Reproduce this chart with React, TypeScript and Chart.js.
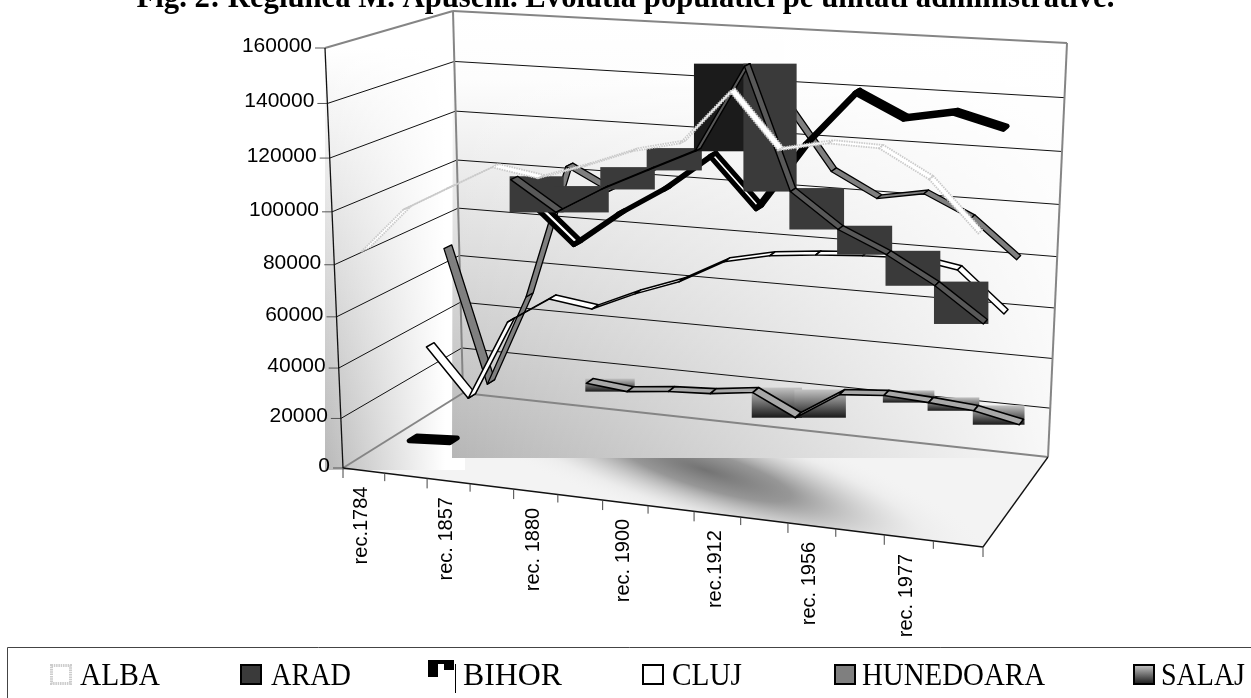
import React, { useEffect, useRef } from "react";
import { Chart, registerables } from "chart.js";

Chart.register(...registerables);

const TITLE = "Fig. 2: Regiunea M. Apuseni. Evolutia populatiei pe unitati administrative.";
const categories = [
  "rec.1784", "rec. 1850", "rec. 1857", "rec. 1869", "rec. 1880", "rec. 1890", "rec. 1900",
  "rec. 1910", "rec.1912", "rec. 1930", "rec. 1956", "rec. 1966", "rec. 1977", "rec. 1992",
];
const yTicks = { min: 0, max: 160000, step: 20000 };

const ALBA = [84700, 101900, 111000, 120000, 117200, 122800, 129300, 133300, 152400, 133200, 136800, 136300, 126900, 109700];
const ARAD = [null, null, null, 112400, 101500, 111300, 119500, 127600, 158600, 115700, 103500, 95900, 86300, 74200];
const BIHOR = [300, 1500, null, 100900, 85800, 98700, 109300, 122700, 104800, 129400, 148700, 140600, 143800, 139300];
const CLUJ = [34500, 14900, 48100, 59000, 56600, 64200, 70500, 79700, 83500, 85300, 86400, 87100, 84100, 69300];
const HUNEDOARA = [70700, 15700, 53900, 107500, 99000, 108100, 116900, 137000, 135800, 113000, 104100, 107200, 99200, 85300];
const SALAJ = [null, null, null, 14500, 12800, 14700, 15700, 18000, 9400, 20900, 22400, 21400, 20000, 16300];

const seriesNames = ["ALBA", "ARAD", "BIHOR", "CLUJ", "HUNEDOARA", "SALAJ"];
const seriesValues = [ALBA, ARAD, BIHOR, CLUJ, HUNEDOARA, SALAJ];

type Style = {
  fill: string;
  stroke: string;
  width: number;
  dash?: number[];
  whiteSegs?: number[];
  boxSegs?: number[];
  darkSegs?: number[];
  boxColor?: string;
  gradBox?: boolean;
};
const seriesStyles: Style[] = [
  { fill: "#ffffff", stroke: "#cacaca", width: 1.8, dash: [1.5, 1] },
  { fill: "#585858", stroke: "#000000", width: 1.4, boxSegs: [3, 4, 5, 6, 7, 8, 9, 10, 11, 12], darkSegs: [7], boxColor: "#3a3a3a" },
  { fill: "#000000", stroke: "#000000", width: 5, whiteSegs: [3, 7] },
  { fill: "#ffffff", stroke: "#000000", width: 1.5 },
  { fill: "#7f7f7f", stroke: "#000000", width: 1.3 },
  { fill: "#a8a8a8", stroke: "#000000", width: 1.6, boxSegs: [3, 7, 8, 10, 11, 12], gradBox: true },
];

// 3-D box corners as they appear in the picture
const A = [343, 468], B = [983, 547], C = [1048, 457], D = [463, 393];
const E = [325, 48], F = [1010, 88], G = [1067, 43], H = [453, 11];
const GREY = "#858585";

const lerp = (a: number, b: number, k: number) => a + (b - a) * k;
const warpU = (t: number) => 0.9066 * t + 0.0934 * t * t;
const warpV = (t: number) => 0.9356 * t + 0.0644 * t * t;
const project = (t: number, vt: number, w: number): [number, number] => {
  const U = warpU(t), V = warpV(vt);
  const corner = (k: number) => {
    const floor = lerp(lerp(A[k], B[k], U), lerp(D[k], C[k], U), w);
    const top = lerp(lerp(E[k], F[k], U), lerp(H[k], G[k], U), w);
    return lerp(floor, top, V);
  };
  return [corner(0), corner(1)];
};
const seriesDepth = (s: number) => (s + 0.5) / seriesNames.length;
const HALF_RIBBON = 0.032;

const normX = (chart: any, i: number) => {
  const xs = chart.scales.x;
  return (xs.getPixelForValue(i) - xs.left) / xs.width;
};
const normY = (chart: any, v: number) => {
  const ys = chart.scales.y;
  return (ys.bottom - ys.getPixelForValue(v)) / ys.height;
};

const poly = (ctx: CanvasRenderingContext2D, pts: number[][]) => {
  ctx.beginPath();
  pts.forEach((p, i) => (i ? ctx.lineTo(p[0], p[1]) : ctx.moveTo(p[0], p[1])));
  ctx.closePath();
};
const seg = (ctx: CanvasRenderingContext2D, a: number[], b: number[], color: string, w: number) => {
  ctx.strokeStyle = color;
  ctx.lineWidth = w;
  ctx.beginPath();
  ctx.moveTo(a[0], a[1]);
  ctx.lineTo(b[0], b[1]);
  ctx.stroke();
};

const ribbons = (chart: any, s: number) => {
  const values = seriesValues[s];
  const w = seriesDepth(s);
  const out: { i: number; pts: number[][] }[] = [];
  for (let i = 0; i < values.length - 1; i++) {
    const a = values[i], b = values[i + 1];
    if (a == null || b == null) continue;
    const ta = normX(chart, i), tb = normX(chart, i + 1);
    const va = normY(chart, a), vb = normY(chart, b);
    out.push({
      i,
      pts: [
        project(ta, va, w - HALF_RIBBON),
        project(tb, vb, w - HALF_RIBBON),
        project(tb, vb, w + HALF_RIBBON),
        project(ta, va, w + HALF_RIBBON),
      ],
    });
  }
  return out;
};

const drawSwatch = (x: CanvasRenderingContext2D, s: number, left: number, top: number) => {
  if (s === 2) {
    x.fillStyle = "#000";
    x.fillRect(left, top - 4, 10, 17);
    x.fillRect(left, top - 4, 26, 4);
    x.fillRect(left + 16, top - 4, 10, 10);
    x.fillRect(left + 27, top, 1, 29);
    return;
  }
  if (s === 0) {
    x.fillStyle = "#fff";
    x.fillRect(left, top, 22, 21);
    x.strokeStyle = "#cccccc";
    x.lineWidth = 3;
    x.setLineDash([1.5, 0.8]);
    x.strokeRect(left + 1.5, top + 1.5, 19, 18);
    x.setLineDash([]);
    return;
  }
  if (s === 5) {
    const g = x.createLinearGradient(0, top, 0, top + 21);
    g.addColorStop(0, "#d0d0d0");
    g.addColorStop(1, "#111");
    x.fillStyle = g;
  } else {
    x.fillStyle = seriesStyles[s].boxColor || seriesStyles[s].fill;
  }
  x.fillRect(left, top, 22, 21);
  x.strokeStyle = "#000";
  x.lineWidth = 2;
  x.strokeRect(left + 1, top + 1, 20, 19);
};

const projectionPlugin = {
  id: "projection",
  afterDatasetsUpdate(chart: any) {
    chart.data.datasets.forEach((ds: any, s: number) => {
      const meta = chart.getDatasetMeta(s);
      meta.data.forEach((el: any, i: number) => {
        const v = ds.data[i];
        if (v == null) return;
        const [x, y] = project(normX(chart, i), normY(chart, v), seriesDepth(s));
        el.x = x;
        el.y = y;
      });
    });
  },
  beforeDatasetsDraw(chart: any) {
    const ctx: CanvasRenderingContext2D = chart.ctx;
    ctx.save();
    // floor
    ctx.save();
    poly(ctx, [A, B, C, [465, 458], [465, 470], [343, 470]]);
    ctx.clip();
    ctx.fillStyle = "#f3f3f3";
    ctx.fillRect(330, 450, 730, 110);
    ctx.translate(705, 470);
    ctx.rotate(0.3);
    ctx.scale(1, 0.2);
    const blob = ctx.createRadialGradient(0, 0, 0, 0, 0, 300);
    blob.addColorStop(0, "rgba(115,115,115,1)");
    blob.addColorStop(0.3, "rgba(135,135,135,0.85)");
    blob.addColorStop(0.75, "rgba(225,225,225,0.35)");
    blob.addColorStop(1, "rgba(243,243,243,0)");
    ctx.fillStyle = blob;
    ctx.fillRect(-320, -320, 640, 640);
    ctx.restore();

    // back wall with its box-shaped lower edge
    const backShape = [H, G, C, [1048, 458], [452, 458], [452, 30]];
    poly(ctx, backShape);
    let g = ctx.createLinearGradient(0, 11, 0, 458);
    g.addColorStop(0, "#ffffff");
    g.addColorStop(0.15, "#fdfdfd");
    g.addColorStop(1, "#b6b6b6");
    ctx.fillStyle = g;
    ctx.fill();
    poly(ctx, backShape);
    g = ctx.createLinearGradient(452, 0, 1050, 0);
    g.addColorStop(0, "rgba(255,255,255,0)");
    g.addColorStop(1, "rgba(255,255,255,0.9)");
    ctx.fillStyle = g;
    ctx.fill();

    // left wall
    const leftShape = [E, H, [452, 458], [465, 458], [465, 470], [325, 470]];
    poly(ctx, leftShape);
    g = ctx.createLinearGradient(0, 48, 0, 470);
    g.addColorStop(0, "#ffffff");
    g.addColorStop(1, "#b8b8b8");
    ctx.fillStyle = g;
    ctx.fill();
    poly(ctx, leftShape);
    g = ctx.createLinearGradient(325, 0, 445, 0);
    g.addColorStop(0, "rgba(255,255,255,0)");
    g.addColorStop(1, "rgba(255,255,255,1)");
    ctx.fillStyle = g;
    ctx.fill();

    // gridlines and y ticks from the value axis
    const ys = chart.scales.y;
    ctx.font = "21px 'Liberation Sans'";
    ctx.fillStyle = "#000";
    ctx.textAlign = "right";
    ctx.textBaseline = "middle";
    ys.ticks.forEach((tick: any) => {
      const vt = normY(chart, tick.value);
      const a = project(0, vt, 0), b = project(0, vt, 1), c = project(1, vt, 1);
      if (tick.value > 0 && tick.value < yTicks.max) {
        seg(ctx, a, b, "#111", 1);
        seg(ctx, b, c, "#111", 1);
      }
      seg(ctx, [a[0] - 10, a[1]], a, "#555", 1);
      ctx.fillText(String(tick.label), a[0] - 13, a[1] - 2);
    });

    // frame
    seg(ctx, E, H, GREY, 2);
    seg(ctx, H, G, GREY, 2);
    seg(ctx, G, C, GREY, 2);
    seg(ctx, H, D, GREY, 2);
    seg(ctx, D, C, GREY, 2);
    seg(ctx, D, A, GREY, 2);
    seg(ctx, A, E, "#111", 1.3);
    seg(ctx, A, B, "#111", 1.3);
    seg(ctx, B, C, "#111", 1.3);

    // category ticks and labels from the category axis
    const xs = chart.scales.x;
    const n = categories.length;
    for (let i = 0; i <= n; i++) {
      const p = project(i / n, 0, 0);
      seg(ctx, p, [p[0], p[1] + (i % 2 ? 8 : 10)], "#444", 1);
    }
    ctx.font = "20px 'Liberation Sans'";
    ctx.fillStyle = "#000";
    ctx.textAlign = "right";
    ctx.textBaseline = "middle";
    for (let i = 0; i < n; i += 2) {
      const p = project(normX(chart, i), 0, 0);
      ctx.save();
      ctx.translate(p[0] - 2, p[1] + 16);
      ctx.rotate(-Math.PI / 2);
      ctx.fillText(xs.getLabelForValue(i), 0, 0);
      ctx.restore();
    }
    ctx.restore();
  },
  beforeDatasetDraw(chart: any, args: any) {
    const s = args.index;
    const st = seriesStyles[s];
    if (!st.boxSegs) return;
    const ctx: CanvasRenderingContext2D = chart.ctx;
    ctx.save();
    ribbons(chart, s).forEach(({ i, pts }) => {
      if (!st.boxSegs!.includes(i)) return;
      const xsv = pts.map((p) => p[0]), ysv = pts.map((p) => p[1]);
      const x0 = Math.min(...xsv) - 1, x1 = Math.max(...xsv) + 1, y0 = Math.min(...ysv), y1 = Math.max(...ysv);
      if (st.gradBox) {
        const g = ctx.createLinearGradient(0, y0, 0, y1);
        g.addColorStop(0, "#c4c4c4");
        g.addColorStop(1, "#1a1a1a");
        ctx.fillStyle = g;
      } else {
        ctx.fillStyle = st.darkSegs && st.darkSegs.includes(i) ? "#1b1b1b" : st.boxColor!;
      }
      ctx.fillRect(x0, y0, x1 - x0, y1 - y0);
    });
    ctx.restore();
  },
  afterDatasetDraw(chart: any, args: any) {
    const s = args.index;
    const st = seriesStyles[s];
    const ctx: CanvasRenderingContext2D = chart.ctx;
    ctx.save();
    ctx.lineJoin = "round";
    ribbons(chart, s).forEach(({ i, pts }) => {
      poly(ctx, pts);
      ctx.fillStyle = st.whiteSegs && st.whiteSegs.includes(i) ? "#ffffff" : st.fill;
      ctx.fill();
      ctx.strokeStyle = st.stroke;
      ctx.lineWidth = st.width;
      ctx.setLineDash(st.dash || []);
      ctx.stroke();
    });
    ctx.restore();
  },
  afterDraw(chart: any) {
    const ctx: CanvasRenderingContext2D = chart.ctx as any;
    ctx.save();
    ctx.strokeStyle = "#444";
    ctx.lineWidth = 1;
    ctx.beginPath();
    ctx.moveTo(7.5, 698);
    ctx.lineTo(7.5, 647.5);
    ctx.lineTo(1251, 647.5);
    ctx.stroke();
    // legend row
    const boxLeft = [50, 240, 428, 642, 834, 1133];
    const textLeft = [80, 271, 463, 672, 862, 1161];
    const textWidth = [80, 80, 99, 70, 183, 84];
    ctx.font = "31px 'Liberation Serif'";
    ctx.textAlign = "left";
    ctx.textBaseline = "alphabetic";
    chart.data.datasets.forEach((ds: any, s: number) => {
      drawSwatch(ctx, s, boxLeft[s], 664);
      const natural = ctx.measureText(ds.label).width;
      ctx.save();
      ctx.translate(textLeft[s], 685);
      ctx.scale(textWidth[s] / natural, 1);
      ctx.fillStyle = "#000";
      ctx.fillText(ds.label, 0, 0);
      ctx.restore();
    });
    ctx.restore();
  },
};

export default function App() {
  const ref = useRef<HTMLCanvasElement>(null);
  useEffect(() => {
    document.body.style.margin = "0";
    const chart = new Chart(ref.current!, {
      type: "line",
      plugins: [projectionPlugin],
      data: {
        labels: categories,
        datasets: seriesNames.map((name, s) => ({
          label: name,
          data: seriesValues[s],
          borderColor: seriesStyles[s].stroke,
          backgroundColor: seriesStyles[s].fill,
          borderWidth: 1,
          pointRadius: 0,
          tension: 0,
          spanGaps: false,
          clip: false,
        })),
      },
      options: {
        responsive: false,
        animation: false,
        events: [],
        scales: {
          x: { type: "category", display: false, offset: true, ticks: { autoSkip: false } },
          y: {
            type: "linear",
            display: false,
            min: yTicks.min,
            max: yTicks.max,
            ticks: { stepSize: yTicks.step, callback: (v: number) => String(v) },
          },
        },
        plugins: {
          tooltip: { enabled: false },
          legend: { display: false },
          title: {
            display: true,
            text: TITLE,
            color: "#000",
            font: { family: "'Liberation Serif'", size: 30.7, weight: "bold", lineHeight: 1 },
            padding: { top: -16, bottom: 0 },
          },
        },
      } as any,
    });
    return () => chart.destroy();
  }, []);
  return <canvas ref={ref} width={1251} height={698} style={{ display: "block" }} />;
}
